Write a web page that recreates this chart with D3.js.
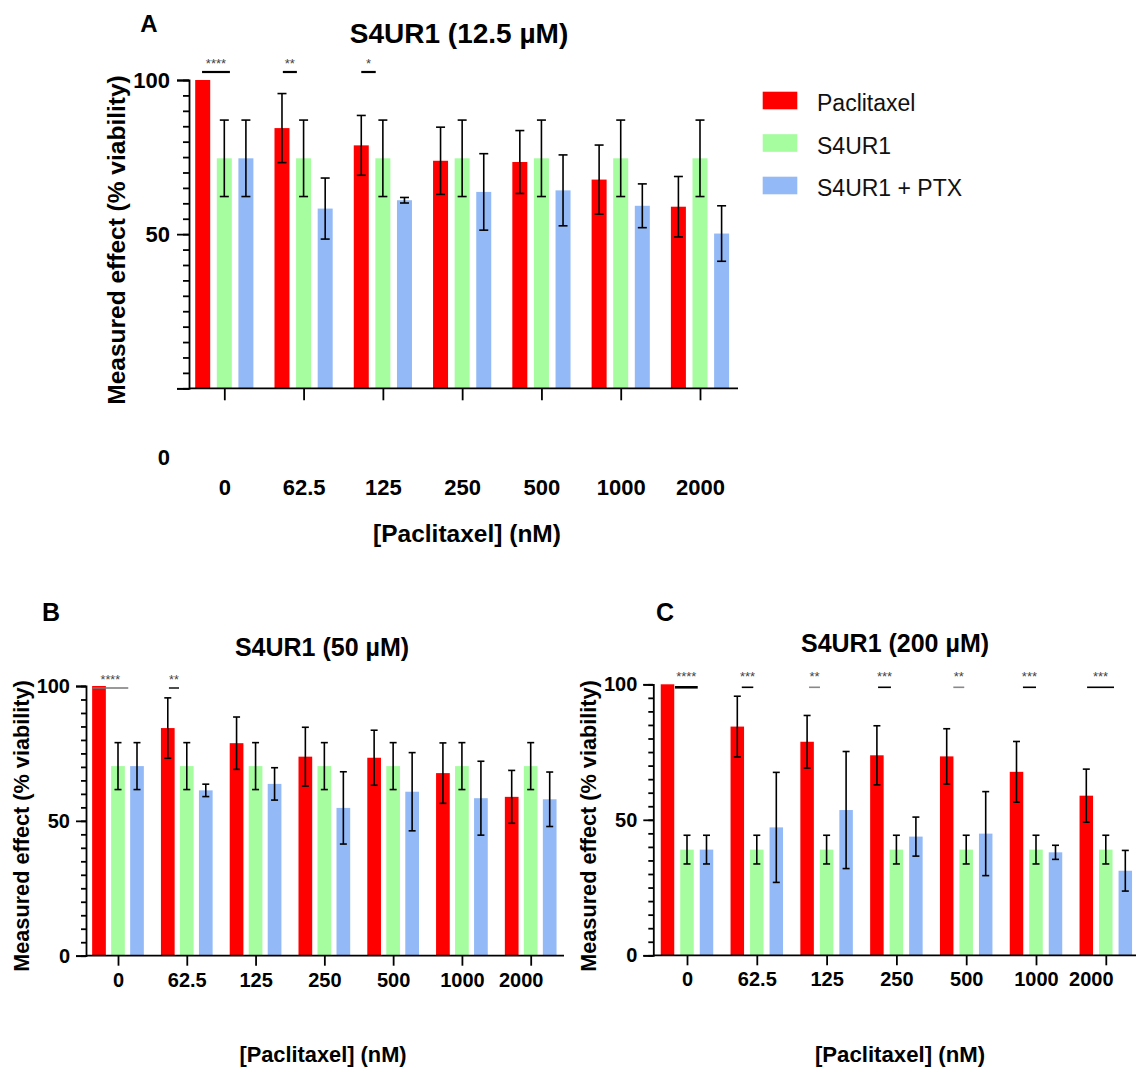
<!DOCTYPE html>
<html>
<head>
<meta charset="utf-8">
<script src="https://cdn.jsdelivr.net/npm/d3@7"></script>
<style>
  body { margin: 0; background: #fff; }
  svg { font-family: "Liberation Sans", Arial, Helvetica, sans-serif; }
</style>
</head>
<body>
<svg id="fig" width="1136" height="1068"></svg>
<script>
// ============
// Data (mean and SD, % viability)
// ============
var doses = ["0", "62.5", "125", "250", "500", "1000", "2000"];
var seriesNames = ["Paclitaxel", "S4UR1", "S4UR1 + PTX"];

// paclitaxel alone is the same in all three panels
var ptxMean = [100, 84.4, 78.8, 73.8, 73.4, 67.7, 58.9];
var ptxSd = [0, 11.2, 9.7, 10.9, 10.2, 11.2, 9.8];

// A: S4UR1 12.5 uM
var s4Mean12 = [74.6, 74.6, 74.6, 74.6, 74.6, 74.6, 74.6];
var s4Sd12 = [12.4, 12.4, 12.4, 12.4, 12.4, 12.4, 12.4];
var comboMean12 = [74.6, 58.3, 61.0, 63.7, 64.2, 59.2, 50.2];
var comboSd12 = [12.4, 9.9, 0.9, 12.4, 11.5, 7.1, 9.0];

// B: S4UR1 50 uM
var s4Mean50 = [70.3, 70.3, 70.3, 70.3, 70.3, 70.3, 70.3];
var s4Sd50 = [8.7, 8.7, 8.7, 8.7, 8.7, 8.7, 8.7];
var comboMean50 = [70.3, 61.3, 63.7, 54.8, 60.8, 58.4, 58.0];
var comboSd50 = [8.7, 2.3, 6.0, 13.4, 14.5, 13.7, 10.1];

// C: S4UR1 200 uM
var s4Mean200 = [39.0, 39.0, 39.0, 39.0, 39.0, 39.0, 39.0];
var s4Sd200 = [5.3, 5.3, 5.3, 5.3, 5.3, 5.3, 5.3];
var comboMean200 = [39.0, 47.2, 53.6, 43.8, 44.9, 38.0, 31.2];
var comboSd200 = [5.3, 20.3, 21.6, 7.2, 15.5, 2.6, 7.5];

// significance marks (dose, stars)
var sigDoses12 = ["0", "62.5", "125"];
var sigStars12 = ["****", "**", "*"];
var sigDoses50 = ["0", "62.5"];
var sigStars50 = ["****", "**"];
var sigDoses200 = ["0", "62.5", "125", "250", "500", "1000", "2000"];
var sigStars200 = ["****", "***", "**", "***", "**", "***", "***"];

var colors = ["#ff0000", "#a6fd9f", "#93baf6"];

// ============
// Layout of the three panels
// ============
var panels = [
  {
    letter: "A", title: "S4UR1 (12.5 \u00b5M)",
    s4Mean: s4Mean12, s4Sd: s4Sd12, comboMean: comboMean12, comboSd: comboSd12,
    sigDoses: sigDoses12, sigStars: sigStars12,
    // line ends in units of bar step from the group centre
    sigSpans: [[-1.03, 0.26], [-0.96, -0.31], [-1.0, -0.33]],
    sigTone: ["#000", "#000", "#000"], sigWidth: [2.2, 2.2, 2.2],
    sigLineDy: -8, sigTextDy: -17, starSize: 13,
    left: 189, right: 738, y0: 388.3, y100: 80,
    xFirst: 224.3, xLast: 700, step: 21.6, barW: 15, cap: 9,
    majorTick: 12, minorTick: 6, yPad: 7, xTick: 12, xPad: 79,
    tickFont: 22, zeroDrop: 69, lastShift: 0,
    letterPos: [149, 23], letterSize: 24,
    titlePos: [459, 33], titleSize: 28,
    yLabelPos: [116, 240], yLabelSize: 24.5,
    xLabelPos: [467, 533], xLabelSize: 24.5
  },
  {
    letter: "B", title: "S4UR1 (50 \u00b5M)",
    s4Mean: s4Mean50, s4Sd: s4Sd50, comboMean: comboMean50, comboSd: comboSd50,
    sigDoses: sigDoses50, sigStars: sigStars50,
    sigSpans: [[-1.35, 0.54], [-0.94, -0.41]],
    sigTone: ["#777", "#000"], sigWidth: [1.6, 1.4],
    sigLineDy: 2, sigTextDy: -6, starSize: 12.5,
    left: 86, right: 564, y0: 955.7, y100: 686,
    xFirst: 118, xLast: 530.7, step: 19, barW: 13.7, cap: 7,
    majorTick: 10, minorTick: 5, yPad: 6, xTick: 10, xPad: 7,
    tickFont: 20, zeroDrop: 0, lastShift: -10,
    letterPos: [51, 612], letterSize: 25,
    titlePos: [322, 647], titleSize: 25,
    yLabelPos: [21, 826], yLabelSize: 21.7,
    xLabelPos: [323, 1054], xLabelSize: 21.8
  },
  {
    letter: "C", title: "S4UR1 (200 \u00b5M)",
    s4Mean: s4Mean200, s4Sd: s4Sd200, comboMean: comboMean200, comboSd: comboSd200,
    sigDoses: sigDoses200, sigStars: sigStars200,
    sigSpans: [[-0.62, 0.55], [-0.77, -0.18], [-0.9, -0.34], [-0.94, -0.28],
               [-0.66, -0.1], [-0.67, 0], [-0.96, 0.42]],
    sigTone: ["#000", "#000", "#888", "#000", "#888", "#000", "#000"],
    sigWidth: [2.6, 1.6, 1.6, 1.6, 1.6, 1.6, 1.6],
    sigLineDy: 3, sigTextDy: -8, starSize: 13,
    left: 653.3, right: 1136, y0: 955.3, y100: 684.3,
    xFirst: 687, xLast: 1105.8, step: 19.5, barW: 13.5, cap: 7,
    majorTick: 10, minorTick: 5, yPad: 6, xTick: 10, xPad: 7,
    tickFont: 20, zeroDrop: 0, lastShift: -15,
    letterPos: [665, 612], letterSize: 25,
    titlePos: [895, 643], titleSize: 25,
    yLabelPos: [588, 826], yLabelSize: 21.7,
    xLabelPos: [900, 1054], xLabelSize: 22.2
  }
];

var svg = d3.select("#fig");

function drawPanel(p) {
  var g = svg.append("g");

  var y = d3.scaleLinear().domain([0, 100]).range([p.y0, p.y100]);
  var x = d3.scalePoint().domain(doses).range([p.xFirst, p.xLast]);
  var sub = d3.scalePoint().domain(seriesNames).range([-p.step, p.step]);

  var means = [ptxMean, p.s4Mean, p.comboMean];
  var sds = [ptxSd, p.s4Sd, p.comboSd];

  // bars
  seriesNames.forEach(function(name, si) {
    g.append("g").selectAll("rect")
      .data(doses)
      .enter()
      .append("rect")
      .attr("x", d => x(d) + sub(name) - p.barW / 2)
      .attr("y", (d, i) => y(means[si][i]))
      .attr("width", p.barW)
      .attr("height", (d, i) => y(0) - y(means[si][i]))
      .attr("fill", colors[si]);
  });

  // error bars (mean +/- SD)
  seriesNames.forEach(function(name, si) {
    var eb = g.append("g")
      .attr("stroke", "#000")
      .attr("stroke-width", 1.6);
    doses.forEach(function(d, i) {
      var sd = sds[si][i];
      if (!sd) return;
      var cx = x(d) + sub(name);
      var hi = y(means[si][i] + sd);
      var lo = y(means[si][i] - sd);
      eb.append("line").attr("x1", cx).attr("x2", cx).attr("y1", hi).attr("y2", lo);
      eb.append("line").attr("x1", cx - p.cap / 2).attr("x2", cx + p.cap / 2).attr("y1", hi).attr("y2", hi);
      eb.append("line").attr("x1", cx - p.cap / 2).attr("x2", cx + p.cap / 2).attr("y1", lo).attr("y2", lo);
    });
  });

  // y axis: minor ticks every 5, labels at 0 / 50 / 100
  var minorAxis = d3.axisLeft(y)
    .tickValues(d3.range(0, 101, 5))
    .tickSize(p.minorTick)
    .tickFormat("");
  var majorAxis = d3.axisLeft(y)
    .tickValues([0, 50, 100])
    .tickSize(p.majorTick)
    .tickPadding(p.yPad);

  var yMinor = g.append("g")
    .attr("transform", `translate(${p.left},0)`)
    .call(minorAxis);
  var yMajor = g.append("g")
    .attr("transform", `translate(${p.left},0)`)
    .call(majorAxis);
  yMinor.select(".domain").remove();
  [yMinor, yMajor].forEach(function(a) {
    a.selectAll("line").attr("stroke-width", 1.8);
    a.select(".domain").attr("stroke-width", 1.8);
  });
  yMajor.selectAll("text")
    .attr("font-size", p.tickFont)
    .attr("font-weight", "bold")
    .attr("fill", "#000");
  // panel A has its "0" label dropped well below the baseline
  yMajor.selectAll(".tick")
    .filter(d => d === 0)
    .select("text")
    .attr("dy", "0.32em")
    .attr("y", p.zeroDrop);

  // x axis
  var bottomAxis = d3.axisBottom(x)
    .tickSize(p.xTick)
    .tickPadding(p.xPad)
    .tickSizeOuter(0);
  var xAxis = g.append("g")
    .attr("transform", `translate(0,${y(0)})`)
    .call(bottomAxis);
  xAxis.select(".domain").remove();
  xAxis.selectAll("line").attr("stroke-width", 1.8);
  xAxis.selectAll("text")
    .attr("font-size", p.tickFont)
    .attr("font-weight", "bold")
    .attr("fill", "#000");
  xAxis.selectAll(".tick")
    .filter(d => d === doses[doses.length - 1])
    .select("text")
    .attr("dx", p.lastShift);
  g.append("line")
    .attr("x1", p.left).attr("x2", p.right)
    .attr("y1", y(0)).attr("y2", y(0))
    .attr("stroke", "#000")
    .attr("stroke-width", 1.8);

  // significance marks
  p.sigDoses.forEach(function(d, k) {
    var span = p.sigSpans[k];
    var x1 = x(d) + span[0] * p.step;
    var x2 = x(d) + span[1] * p.step;
    var ly = y(100) + p.sigLineDy;
    g.append("line")
      .attr("x1", x1).attr("x2", x2)
      .attr("y1", ly).attr("y2", ly)
      .attr("stroke", p.sigTone[k])
      .attr("stroke-width", p.sigWidth[k]);
    g.append("text")
      .attr("x", (x1 + x2) / 2)
      .attr("y", y(100) + p.sigTextDy)
      .attr("text-anchor", "middle")
      .attr("dominant-baseline", "central")
      .attr("font-size", p.starSize)
      .attr("fill", "#444")
      .text(p.sigStars[k]);
  });

  // texts
  svg.append("text")
    .attr("x", p.letterPos[0]).attr("y", p.letterPos[1])
    .attr("text-anchor", "middle")
    .attr("dominant-baseline", "central")
    .attr("font-size", p.letterSize)
    .attr("font-weight", "bold")
    .text(p.letter);

  svg.append("text")
    .attr("x", p.titlePos[0]).attr("y", p.titlePos[1])
    .attr("text-anchor", "middle")
    .attr("dominant-baseline", "central")
    .attr("font-size", p.titleSize)
    .attr("font-weight", "bold")
    .text(p.title);

  svg.append("text")
    .attr("transform", `translate(${p.yLabelPos[0]},${p.yLabelPos[1]}) rotate(-90)`)
    .attr("text-anchor", "middle")
    .attr("dominant-baseline", "central")
    .attr("font-size", p.yLabelSize)
    .attr("font-weight", "bold")
    .text("Measured effect (% viability)");

  svg.append("text")
    .attr("x", p.xLabelPos[0]).attr("y", p.xLabelPos[1])
    .attr("text-anchor", "middle")
    .attr("dominant-baseline", "central")
    .attr("font-size", p.xLabelSize)
    .attr("font-weight", "bold")
    .text("[Paclitaxel] (nM)");
}

panels.forEach(drawPanel);

// ============
// Legend
// ============
var legendRows = [100.5, 143, 185.5];
var legend = svg.append("g");
seriesNames.forEach(function(name, i) {
  legend.append("rect")
    .attr("x", 762.7)
    .attr("y", legendRows[i] - 8.8)
    .attr("width", 34.6)
    .attr("height", 17.6)
    .attr("fill", colors[i]);
  legend.append("text")
    .attr("x", 817)
    .attr("y", legendRows[i] + 2.5)
    .attr("dominant-baseline", "central")
    .attr("font-size", 23)
    .attr("fill", "#111")
    .text(name);
});
</script>
</body>
</html>
